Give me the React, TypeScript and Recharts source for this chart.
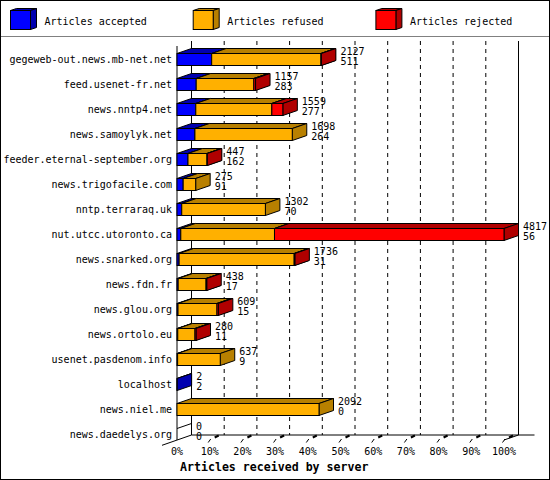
import {
  BarChart,
  Bar,
  XAxis,
  YAxis,
  Legend,
  LabelList,
  ReferenceLine,
  ReferenceArea,
} from 'recharts';

// servers, top to bottom
const HOSTS = [
  'gegeweb-out.news.mb-net.net',
  'feed.usenet-fr.net',
  'news.nntp4.net',
  'news.samoylyk.net',
  'feeder.eternal-september.org',
  'news.trigofacile.com',
  'nntp.terraraq.uk',
  'nut.utcc.utoronto.ca',
  'news.snarked.org',
  'news.fdn.fr',
  'news.glou.org',
  'news.ortolo.eu',
  'usenet.pasdenom.info',
  'localhost',
  'news.niel.me',
  'news.daedelys.org',
];

// printed next to each bar: offered total, then accepted
const TOTALS = [2127, 1157, 1559, 1698, 447, 275, 1302, 4817, 1736, 438, 609, 280, 637, 2, 2092, 0];
const ACCEPTED = [511, 283, 277, 264, 162, 91, 70, 56, 31, 17, 15, 11, 9, 2, 0, 0];
// split of the rest
const REFUSED = [1610, 849, 1120, 1434, 280, 184, 1232, 1380, 1695, 411, 574, 254, 628, 0, 2092, 0];
const REJECTED = [6, 25, 162, 0, 5, 0, 0, 3381, 10, 10, 20, 15, 0, 0, 0, 0];

const MAX_ARTICLES = 4817;
const PERCENT_TICKS = [0, 10, 20, 30, 40, 50, 60, 70, 80, 90, 100];

const SERIES = [
  { key: 'accepted', name: 'Articles accepted', front: '#0000ff', shade: '#0000b0' },
  { key: 'refused', name: 'Articles refused', front: '#ffb000', shade: '#b88000' },
  { key: 'rejected', name: 'Articles rejected', front: '#ff0000', shade: '#b00000' },
];

// 3d depth of the bars / back plane
const DX = 14.5;
const DY = -5;

const FONT = '"DejaVu Sans Mono", "Liberation Mono", monospace';

const data = HOSTS.map((host, i) => ({
  host,
  idx: i,
  accepted: ACCEPTED[i],
  refused: REFUSED[i],
  rejected: REJECTED[i],
}));

const bar3d = (key: string, front: string, shade: string) => (props: any) => {
  const { x, y, width, height, payload } = props;
  const v = payload ? payload[key] : 0;
  if (!v) {
    // empty row still gets the left edge of its (flat) bar
    if (key === 'accepted' && payload && TOTALS[payload.idx] === 0) {
      return <line x1={x} y1={y} x2={x + DX} y2={y + DY} stroke="#000" />;
    }
    return <g />;
  }
  const r = x + width;
  return (
    <g stroke="#000" strokeWidth={1} strokeLinejoin="miter">
      <polygon
        points={`${x},${y} ${r},${y} ${r + DX},${y + DY} ${x + DX},${y + DY}`}
        fill={shade}
      />
      <polygon
        points={`${r},${y} ${r + DX},${y + DY} ${r + DX},${y + height + DY} ${r},${y + height}`}
        fill={shade}
      />
      <rect x={x} y={y} width={width} height={height} fill={front} />
    </g>
  );
};

function Walls(props: any) {
  const { x, y, width, height } = props;
  const left = x;
  const right = x + width;
  const backTop = y - 5.5;
  const backBottom = y + height - 11.5;
  const frontBottom = y + height - 6.5;
  return (
    <g stroke="#000" strokeWidth={1} fill="none">
      <line x1={left + DX} y1={backTop} x2={left + DX} y2={backBottom} />
      <line x1={right + DX} y1={backTop} x2={right + DX} y2={backBottom} />
      <line x1={left + DX} y1={backBottom} x2={right + DX + 16} y2={backBottom} />
      <line x1={left - 15} y1={frontBottom + 5.3} x2={left + DX} y2={backBottom} />
      <line x1={right} y1={frontBottom} x2={right + DX} y2={backBottom} />
      <line x1={left} y1={y - 0.5} x2={left} y2={frontBottom} />
    </g>
  );
}

function GridLine(props: any) {
  const { x1, y1, y2 } = props;
  const top = Math.min(y1, y2) - 5.5;
  const bottom = Math.max(y1, y2) - 11.5;
  return (
    <line
      x1={x1 + DX}
      y1={top}
      x2={x1 + DX}
      y2={bottom}
      stroke="#000"
      strokeDasharray="4 4"
    />
  );
}

function FloorTick(props: any) {
  const { x1, y1, y2 } = props;
  const fb = Math.max(y1, y2) - 6.5;
  return (
    <g stroke="#000">
      <line x1={x1 - 1.5} y1={fb + 2.5} x2={x1 + 1} y2={fb - 1} />
      <line x1={x1 + 5} y1={fb - 2.5} x2={x1 + 9} y2={fb - 4.5} strokeWidth={2} />
    </g>
  );
}

function Totals(props: any) {
  const { x, y, width, height, value } = props;
  const i = Number(value);
  const tx = Number(x) + Number(width) + 19;
  const cy = Number(y) + Number(height) / 2;
  return (
    <g fontFamily={FONT} fontSize={10} fill="#000">
      <text x={tx} y={cy - 5}>{TOTALS[i]}</text>
      <text x={tx} y={cy + 5.5}>{ACCEPTED[i]}</text>
    </g>
  );
}

function LegendBoxes() {
  return (
    <svg width={550} height={37} style={{ display: 'block' }}>
      {SERIES.map((s, i) => {
        const ox = 10.5 + 182.7 * i;
        return (
          <g key={s.key}>
            <g stroke="#000">
              <polygon
                points={`${ox},10.5 ${ox + 20},10.5 ${ox + 26},8.5 ${ox + 6},8.5`}
                fill={s.shade}
              />
              <polygon
                points={`${ox + 20},10.5 ${ox + 26},8.5 ${ox + 26},27.5 ${ox + 20},29.5`}
                fill={s.shade}
              />
              <rect x={ox} y={10.5} width={20} height={19} fill={s.front} />
            </g>
            <text x={ox + 34} y={24.5} fontFamily={FONT} fontSize={10} fill="#000">
              {s.name}
            </text>
          </g>
        );
      })}
      <line x1={0} y1={37} x2={550} y2={37} stroke="#000" />
    </svg>
  );
}

function AxisTitle(props: any) {
  const { viewBox } = props;
  return (
    <text
      x={viewBox.x + 3}
      y={viewBox.y + 24.5}
      fontFamily={FONT}
      fontSize={11.6}
      fontWeight="bold"
      fill="#000"
    >
      Articles received by server
    </text>
  );
}

export default function App() {
  return (
    <div style={{ position: 'relative', width: 550, height: 480, background: '#fff', fontFamily: FONT }}>
      <style>{'body{margin:0}'}</style>
      <BarChart
        layout="vertical"
        width={550}
        height={480}
        data={data}
        barSize={12}
        margin={{ top: 9.5, right: 46, bottom: 3.5, left: 0 }}
      >
        <Legend
          verticalAlign="top"
          align="left"
          height={37}
          content={() => <LegendBoxes />}
          wrapperStyle={{ top: 0, left: 0, width: 550, height: 37 }}
        />
        <XAxis
          type="number"
          domain={[0, MAX_ARTICLES]}
          ticks={PERCENT_TICKS.map((p) => (MAX_ARTICLES * p) / 100)}
          tickFormatter={(v: number) => `${Math.round((v / MAX_ARTICLES) * 100)}%`}
          interval={0}
          axisLine={false}
          tickLine={false}
          tickSize={0}
          tickMargin={1.5}
          height={30}
          tick={{ fontSize: 10, fill: '#000', fontFamily: FONT }}
          label={<AxisTitle />}
        />
        <YAxis
          type="category"
          dataKey="host"
          width={177}
          interval={0}
          axisLine={false}
          tickLine={false}
          tickSize={0}
          tickMargin={5}
          tick={{ fontSize: 10, fill: '#000', fontFamily: FONT }}
        />
        <ReferenceArea
          x1={0}
          x2={MAX_ARTICLES}
          ifOverflow="visible"
          shape={<Walls />}
          zIndex={50}
        />
        {PERCENT_TICKS.slice(1, 10).map((p) => (
          <ReferenceLine
            key={`g${p}`}
            x={(MAX_ARTICLES * p) / 100}
            shape={<GridLine />}
            zIndex={50}
          />
        ))}
        {PERCENT_TICKS.slice(1).map((p) => (
          <ReferenceLine
            key={`t${p}`}
            x={(MAX_ARTICLES * p) / 100}
            ifOverflow="visible"
            shape={<FloorTick />}
            zIndex={50}
          />
        ))}
        {SERIES.map((s) => (
          <Bar
            key={s.key}
            dataKey={s.key}
            name={s.name}
            stackId="a"
            fill={s.front}
            isAnimationActive={false}
            shape={bar3d(s.key, s.front, s.shade)}
          >
            {s.key === 'rejected' && <LabelList dataKey="idx" content={<Totals />} />}
          </Bar>
        ))}
      </BarChart>
      <div
        style={{
          position: 'absolute',
          inset: 0,
          border: '1px solid #000',
          boxSizing: 'border-box',
          pointerEvents: 'none',
        }}
      />
    </div>
  );
}
